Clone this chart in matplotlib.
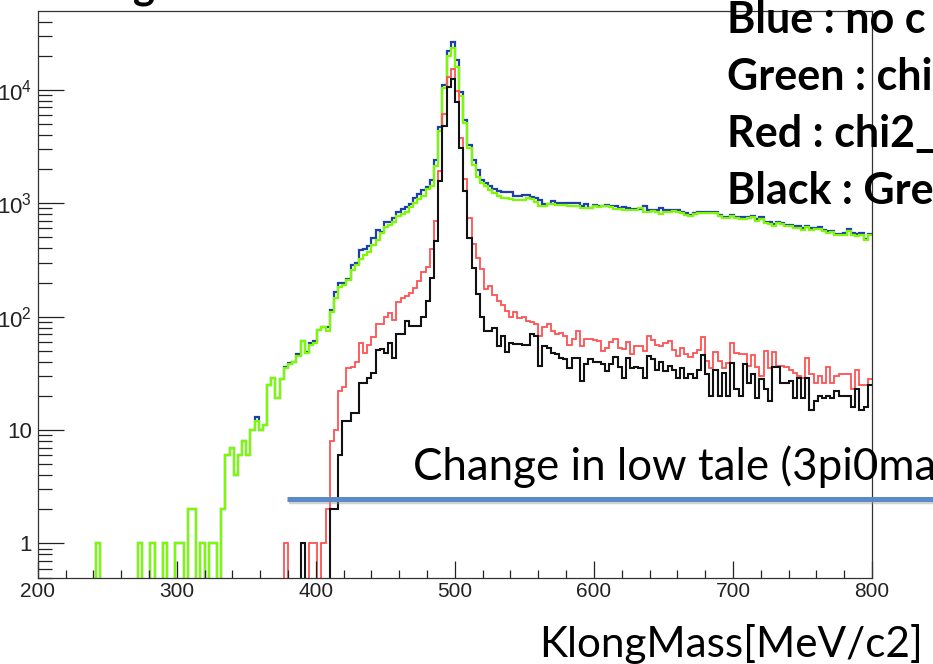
import numpy as np
import matplotlib
matplotlib.use("Agg")
import matplotlib.pyplot as plt
from matplotlib.lines import Line2D
from matplotlib.ticker import FixedLocator, LogLocator, NullFormatter

# ---------------- data (3 MeV bins, 200..800) ----------------
bin_lo, bin_hi, n_bins = 200, 800, 200

blue = [0, 0, 0, 0, 0, 0, 0, 0, 0, 0,
        0, 0, 0, 0, 1, 0, 0, 0, 0, 0,
        0, 0, 0, 0, 1, 0, 0, 1, 0, 0,
        1, 0, 0, 1, 1, 0, 2, 2, 0, 1,
        0, 1, 1, 0, 2, 6, 7, 4, 6, 8,
        6, 10, 13, 10, 11, 25, 29, 19, 28, 36,
        39, 40, 47, 61, 49, 58, 61, 76, 81, 81,
        115, 166, 197, 200, 215, 285, 300, 388, 395, 420,
        495, 582, 560, 690, 690, 740, 830, 885, 920, 990,
        1110, 1200, 1310, 1400, 1600, 2420, 4750, 11100, 22000, 26200,
        18300, 9500, 5440, 3280, 2420, 1950, 1620, 1520, 1420, 1340,
        1270, 1250, 1260, 1250, 1150, 1150, 1180, 1185, 1130, 1120,
        1060, 990, 985, 1050, 1010, 1005, 1010, 1010, 1005, 1010,
        955, 980, 917, 960, 950, 955, 965, 950, 955, 917,
        920, 905, 890, 895, 890, 940, 872, 875, 870, 905,
        872, 870, 872, 880, 845, 818, 791, 818, 845, 845,
        845, 845, 840, 791, 764, 764, 791, 764, 750, 750,
        764, 780, 730, 750, 689, 680, 655, 689, 670, 645,
        645, 625, 625, 603, 633, 603, 603, 615, 583, 570,
        570, 537, 537, 545, 590, 545, 535, 545, 485, 535]

green = [0, 0, 0, 0, 0, 0, 0, 0, 0, 0,
         0, 0, 0, 0, 1, 0, 0, 0, 0, 0,
         0, 0, 0, 0, 1, 0, 0, 1, 0, 0,
         1, 0, 0, 1, 1, 0, 2, 2, 0, 1,
         0, 1, 1, 0, 2, 6, 7, 4, 6, 8,
         6, 10, 12, 10, 11, 25, 29, 19, 28, 35,
         38, 40, 45, 61, 48, 56, 58, 76, 81, 74,
         111, 145, 184, 190, 211, 258, 286, 321, 350, 375,
         430, 475, 545, 622, 640, 690, 775, 800, 845, 920,
         1000, 1090, 1170, 1330, 1420, 2110, 4310, 10400, 19800, 23400,
         15800, 8870, 5090, 3060, 2180, 1720, 1520, 1420, 1300, 1230,
         1150, 1120, 1120, 1080, 1070, 1075, 1070, 1110, 1100, 1023,
         955, 950, 980, 980, 968, 965, 968, 955, 950, 955,
         905, 910, 900, 940, 935, 940, 945, 935, 890, 888,
         872, 870, 875, 870, 905, 845, 845, 848, 845, 800,
         845, 840, 850, 845, 818, 790, 770, 800, 820, 818,
         820, 818, 815, 770, 745, 740, 770, 745, 730, 728,
         745, 750, 700, 730, 670, 660, 635, 668, 650, 625,
         628, 605, 608, 585, 615, 585, 588, 598, 565, 552,
         555, 520, 522, 530, 572, 530, 518, 530, 470, 520]

red = [0, 0, 0, 0, 0, 0, 0, 0, 0, 0,
       0, 0, 0, 0, 0, 0, 0, 0, 0, 0,
       0, 0, 0, 0, 0, 0, 0, 0, 0, 0,
       0, 0, 0, 0, 0, 0, 0, 0, 0, 0,
       0, 0, 0, 0, 0, 0, 0, 0, 0, 0,
       0, 0, 0, 0, 0, 0, 0, 0, 0, 1,
       0, 0, 0, 0, 0, 1, 1, 0, 1, 2,
       8, 10, 22, 24, 35, 36, 40, 58, 48, 56,
       66, 87, 87, 100, 107, 93, 135, 145, 152, 162,
       180, 205, 250, 272, 395, 700, 1930, 6110, 12900, 15250,
       9820, 3800, 1630, 748, 435, 332, 265, 175, 185, 155,
       138, 128, 113, 100, 111, 98, 100, 92, 90, 86,
       68, 81, 87, 74, 70, 72, 67, 56, 63, 74,
       55, 64, 63, 62, 61, 50, 53, 60, 64, 53,
       52, 60, 47, 55, 55, 50, 68, 62, 56, 55,
       59, 61, 51, 45, 53, 47, 44, 48, 51, 66,
       41, 35, 49, 41, 35, 39, 59, 48, 47, 47,
       37, 46, 36, 30, 50, 35, 49, 37, 37, 36,
       34, 32, 30, 29, 43, 31, 26, 30, 26, 36,
       26, 30, 31, 31, 31, 23, 34, 25, 25, 28]

black = [0, 0, 0, 0, 0, 0, 0, 0, 0, 0,
         0, 0, 0, 0, 0, 0, 0, 0, 0, 0,
         0, 0, 0, 0, 0, 0, 0, 0, 0, 0,
         0, 0, 0, 0, 0, 0, 0, 0, 0, 0,
         0, 0, 0, 0, 0, 0, 0, 0, 0, 0,
         0, 0, 0, 0, 0, 0, 0, 0, 0, 0,
         0, 0, 0, 1, 0, 0, 0, 0, 0, 0,
         2, 2, 6, 12, 12, 14, 14, 26, 26, 29,
         32, 51, 52, 48, 58, 43, 71, 71, 91, 82,
         83, 83, 99, 137, 220, 462, 1580, 4820, 10650, 12450,
         7740, 3100, 1290, 498, 271, 160, 100, 75, 75, 79,
         55, 67, 49, 58, 57, 57, 56, 56, 70, 68,
         37, 55, 53, 48, 47, 43, 42, 35, 43, 43,
         27, 38, 42, 40, 40, 38, 33, 38, 44, 36,
         29, 43, 35, 36, 35, 29, 45, 42, 34, 40,
         33, 37, 34, 29, 35, 29, 31, 29, 34, 46,
         31, 20, 34, 20, 32, 20, 39, 23, 20, 38,
         26, 31, 19, 28, 23, 18, 36, 36, 26, 26,
         27, 19, 29, 19, 29, 15, 18, 20, 19, 20,
         19, 22, 20, 20, 20, 16, 23, 15, 16, 25]

x_ticks = [200, 300, 400, 500, 600, 700, 800]
y_ticks = [1, 10, 100, 1000, 10000]
y_ticklabels = ["1", "10", r"$\mathregular{10^{2}}$", r"$\mathregular{10^{3}}$", r"$\mathregular{10^{4}}$"]

legend_lines = ["Blue : no c", "Green : chi", "Red : chi2_", "Black : Gre"]
note_text = "Change in low tale (3pi0ma"
xlabel_text = "KlongMass[MeV/c2]"

# ---------------- figure ----------------
plt.rcParams["mathtext.fontset"] = "custom"
plt.rcParams["mathtext.rm"] = "Liberation Sans"
plt.rcParams["font.family"] = ["Liberation Sans", "DejaVu Sans"]

W, H = 933, 664
fig = plt.figure(figsize=(W / 100, H / 100), dpi=100)
fig.patch.set_facecolor("white")

L, R, T, B = 37.7, 872, 11, 578
ax = fig.add_axes([L / W, 1 - B / H, (R - L) / W, (B - T) / H])

edges = np.linspace(bin_lo, bin_hi, n_bins + 1)
for vals, col, lw in [(blue, "#1d3fae", 1.6), (green, "#7dfa00", 1.6),
                      (red, "#ff5252", 1.3), (black, "#111111", 1.5)]:
    v = np.asarray(vals, dtype=float)
    v = np.where(v > 0, v, 1e-3)
    ax.stairs(v, edges, baseline=None, color=col, lw=lw)

ax.set_yscale("log")
ax.set_xlim(bin_lo, bin_hi)
ax.set_ylim(0.496, 49600)

ax.set_xticks(x_ticks)
ax.set_xticks(np.arange(200, 801, 20), minor=True)
ax.yaxis.set_major_locator(FixedLocator(y_ticks))
ax.yaxis.set_minor_locator(LogLocator(base=10, subs=np.arange(2, 10)))
ax.yaxis.set_minor_formatter(NullFormatter())
ax.set_yticklabels(y_ticklabels)

ax.tick_params(axis="x", which="major", direction="in", length=12, width=0.9,
               pad=3, labelsize=15, colors="#222222")
ax.tick_params(axis="x", which="minor", direction="in", length=6, width=0.9, colors="#222222")
ax.tick_params(axis="y", which="major", direction="in", length=19, width=0.9,
               pad=4, labelsize=16, colors="#222222")
ax.tick_params(axis="y", which="minor", direction="in", length=10, width=0.9, colors="#222222")
for s in ax.spines.values():
    s.set_linewidth(0.9)
    s.set_color("#333333")


def P(x, y):
    return (x / W, 1 - y / H)


renderer = fig.canvas.get_renderer()


def fit(t, target_w):
    w = t.get_window_extent(renderer=renderer).width
    t.set_fontsize(t.get_fontsize() * target_w / w)


# partially visible title glyph at the top
fig.text(*P(133, -2), "g", fontsize=30, fontweight="bold", family=["Lato", "DejaVu Sans"],
         va="baseline", ha="left", color="black")

# bold legend-like lines (cut at right edge)
ref = fig.text(*P(727, 90), legend_lines[1], fontsize=30, fontweight="bold",
               family=["Lato", "DejaVu Sans"], va="baseline", ha="left")
fit(ref, 205)
fs_bold = ref.get_fontsize()
for i, s in enumerate(legend_lines):
    if i == 1:
        continue
    fig.text(*P(727, 33 + 57 * i), s, fontsize=fs_bold, fontweight="bold",
             family=["Lato", "DejaVu Sans"], va="baseline", ha="left")

# note and marker line
nt = fig.text(*P(413, 480), note_text, fontsize=30, family=["Lato", "DejaVu Sans"],
              va="baseline", ha="left")
fit(nt, 522)
fig.add_artist(Line2D([289 / W, 1.0], [1 - 502 / H] * 2, transform=fig.transFigure,
                      color="#9a9a9a", alpha=0.45, lw=3.2, solid_capstyle="butt"))
fig.add_artist(Line2D([287 / W, 1.0], [1 - 499 / H] * 2, transform=fig.transFigure,
                      color="#5b8bc6", lw=3.6, solid_capstyle="butt"))

xl = fig.text(*P(539, 657), xlabel_text, fontsize=30, family=["Lato", "DejaVu Sans"],
              va="baseline", ha="left")
fit(xl, 384)

fig.savefig("out.png", dpi=100)
